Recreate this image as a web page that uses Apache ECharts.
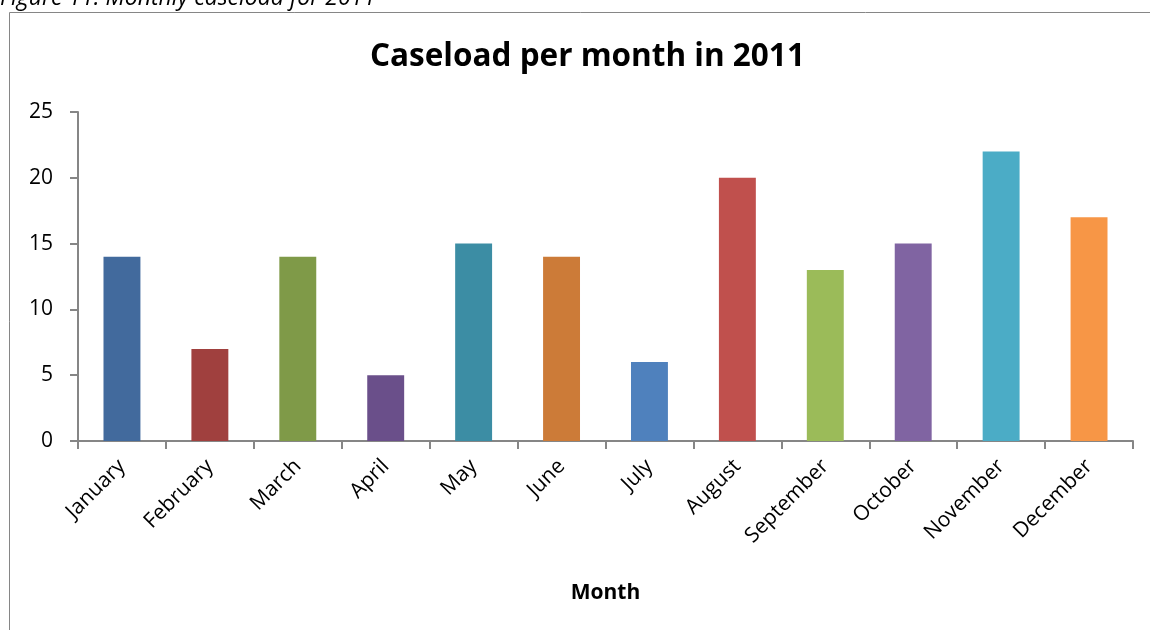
<!DOCTYPE html>
<html><head><meta charset="utf-8">
<script src="https://cdn.jsdelivr.net/npm/echarts@6/dist/echarts.min.js"></script>
<style>html,body{margin:0;padding:0;background:#fff}#c{width:1150px;height:630px}</style>
</head><body><div id="c"></div>
<script>
const months = ['January','February','March','April','May','June','July','August','September','October','November','December'];
const caseload = [14, 7, 14, 5, 15, 14, 6, 20, 13, 15, 22, 17];
const yTicks = [0, 5, 10, 15, 20, 25];
const barColors = ['#426A9D','#A0403E','#7F9A48','#6A4F8A','#3C8DA4','#CC7B38','#4F81BD','#C0504D','#9BBB59','#8064A2','#4BACC6','#F79646'];

const chart = echarts.init(document.getElementById('c'));
const font = '"Open Sans", sans-serif';
chart.setOption({
  animation: false,
  graphic: [
    {type:'rect', shape:{x:9.5, y:12.5, width:1160, height:640}, style:{fill:'none', stroke:'#868686', lineWidth:1}, silent:true, z:-1},
    {type:'text', left:0, top:-13, style:{text:'Figure 11: Monthly caseload for 2011', font:'italic 23px "Open Sans", sans-serif', fill:'#000'}}
  ],
  title: {text:'Caseload per month in 2011', left:365, top:36, textStyle:{fontFamily:font, fontWeight:'bold', fontSize:31.5, color:'#000'}},
  grid: {left:78, right:17, top:112, bottom:189},
  xAxis: {
    type:'category', data: months,
    name:'Month', nameLocation:'middle', nameGap:142,
    nameTextStyle:{fontFamily:font, fontWeight:'bold', fontSize:21, color:'#000'},
    axisLine:{lineStyle:{color:'#868686', width:2}},
    axisTick:{show:true, length:8, interval:0, lineStyle:{color:'#868686', width:2}},
    axisLabel:{rotate:45, fontFamily:font, fontSize:21, color:'#000', margin:22, interval:0}
  },
  yAxis: {
    type:'value', min:yTicks[0], max:yTicks[yTicks.length-1], interval:5,
    axisLine:{show:true, lineStyle:{color:'#868686', width:2}},
    axisTick:{show:true, length:8, lineStyle:{color:'#868686', width:2}},
    splitLine:{show:false},
    axisLabel:{fontFamily:font, fontSize:21, color:'#000', margin:25}
  },
  series: [{
    type:'bar', data: caseload, barWidth:'42%',
    itemStyle:{color: p => barColors[p.dataIndex]}
  }]
});
</script></body></html>
